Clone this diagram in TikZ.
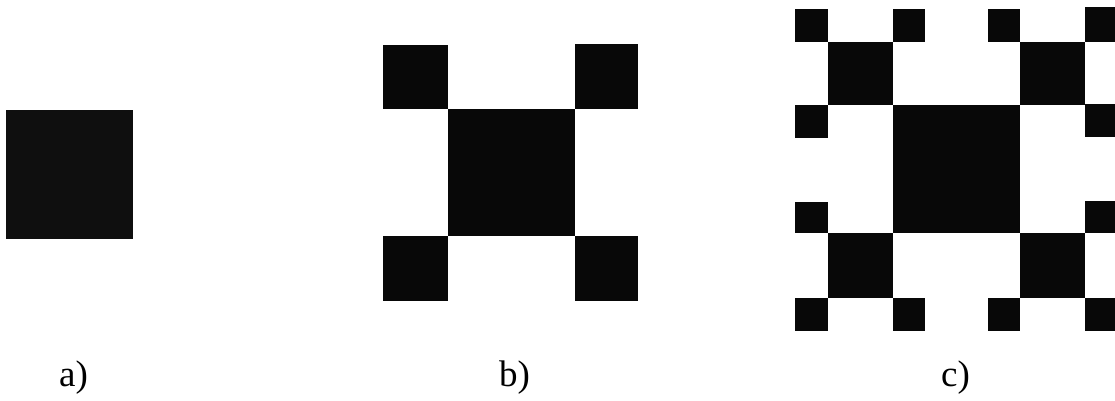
\documentclass[tikz,border=0pt]{standalone}
\usepackage{fontspec}
\setmainfont{Liberation Serif}
\begin{document}
\begin{tikzpicture}[x=1pt,y=-1pt,
  blk/.style={fill=black!97,draw=none},
  blka/.style={fill=black!94,draw=none},
  lbl/.style={anchor=base west,inner sep=0pt,font=\fontsize{37}{40}\selectfont}]
\useasboundingbox (0,0) rectangle (1115,400);
\fill[white] (0,0) rectangle (1115,400);
% a)
\fill[blka] (6,110) rectangle (133,239);
% b)
\fill[blk] (448,109) rectangle (575,236);
\fill[blk] (383,45) rectangle (448,109);
\fill[blk] (575,44) rectangle (638,109);
\fill[blk] (383,236) rectangle (448,301);
\fill[blk] (575,236) rectangle (638,301);
% c)
\fill[blk] (893,105) rectangle (1020,233);
% medium
\fill[blk] (828,42) rectangle (893,105);
\fill[blk] (1020,42) rectangle (1085,105);
\fill[blk] (828,233) rectangle (893,298);
\fill[blk] (1020,233) rectangle (1085,298);
% small, top-left group
\fill[blk] (795,9) rectangle (828,42);
\fill[blk] (893,9) rectangle (925,42);
\fill[blk] (795,105) rectangle (828,138);
% small, top-right group
\fill[blk] (988,9) rectangle (1020,42);
\fill[blk] (1085,7) rectangle (1115,42);
\fill[blk] (1085,104) rectangle (1115,137);
% small, bottom-left group
\fill[blk] (795,202) rectangle (828,233);
\fill[blk] (795,298) rectangle (828,331);
\fill[blk] (893,298) rectangle (925,331);
% small, bottom-right group
\fill[blk] (988,298) rectangle (1020,331);
\fill[blk] (1085,298) rectangle (1115,331);
\fill[blk] (1085,201) rectangle (1115,233);
% labels
\node[lbl] (la) at (59,386) {a)};
\node[lbl] (lb) at (499,386) {b)};
\node[lbl] (lc) at (941,386) {c)};
\end{tikzpicture}
\end{document}
